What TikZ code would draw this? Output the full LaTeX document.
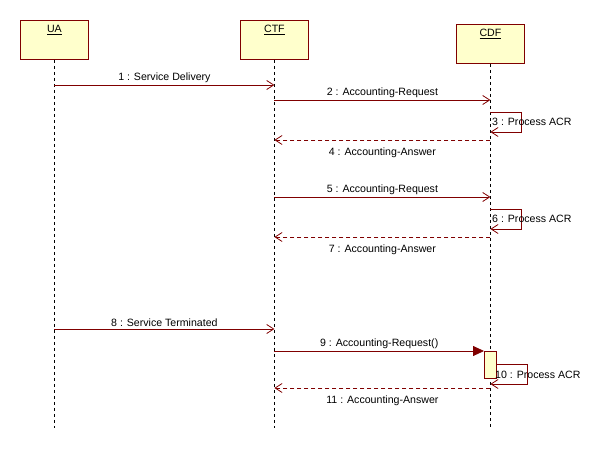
\documentclass[tikz,border=0pt]{standalone}
\usepackage{fontspec}
\setmainfont{Liberation Sans}
\usetikzlibrary{arrows.meta}
\definecolor{msgred}{RGB}{128,0,0}
\definecolor{boxfill}{RGB}{255,255,204}

\begin{document}
\begin{tikzpicture}[x=1pt, y=-1pt,
    font=\fontsize{10.6}{12}\selectfont,
    obj/.style={draw=msgred, fill=boxfill, line width=0.8pt,
                minimum width=68pt, minimum height=39pt, anchor=north west,
                inner sep=0pt},
    objname/.style={anchor=north, inner sep=0pt, yshift=-5pt},
    life/.style={draw=black, line width=0.8pt, dash pattern=on 3pt off 3pt},
    call/.style={draw=msgred, line width=0.8pt,
                 -{Straight Barb[length=7pt,width=9pt,line width=0.8pt]}},
    sync/.style={draw=msgred, line width=0.8pt,
                 -{Triangle[length=11pt,width=10pt]}, fill=none},
    reply/.style={draw=msgred, line width=0.8pt, dash pattern=on 4pt off 3pt,
                  -{Straight Barb[length=7pt,width=9pt,line width=0.8pt]}},
    lbl/.style={inner sep=2pt}
]
\useasboundingbox (0,0) rectangle (597,452);

% objects
\node[obj] (ua)  at (20,20)  {};
\node[obj] (ctf) at (240,20) {};
\node[obj] (cdf) at (456,24) {};
\node[objname] at (ua.north)  {\underline{UA}};
\node[objname] at (ctf.north) {\underline{CTF}};
\node[objname] at (cdf.north) {\underline{CDF}};

% lifelines
\coordinate (uaend)  at (ua.south  |- 0,428);
\coordinate (ctfend) at (ctf.south |- 0,428);
\coordinate (cdfend) at (cdf.south |- 0,428);
\draw[life] (ua.south)  -- (uaend);
\draw[life] (ctf.south) -- (ctfend);
\draw[life] (cdf.south) -- (cdfend);

% first charging round
\draw[call] (ua |- 0,85) -- node[lbl,above]{1 : Service Delivery} (ctf |- 0,85);
\draw[call] (ctf |- 0,100) -- node[lbl,above]{2 : Accounting-Request} (cdf |- 0,100);
\draw[call] (cdf |- 0,112) -- (521,112) -- (521,132) -- (cdf |- 0,132);
\node[anchor=west, inner sep=0pt] (acr3) at (492,122) {3 : Process ACR};
\draw[reply] (cdf |- 0,140) -- node[lbl,below=5pt]{4 : Accounting-Answer} (ctf |- 0,140);

% second round
\draw[call] (ctf |- 0,197) -- node[lbl,above]{5 : Accounting-Request} (cdf |- 0,197);
\draw[call] (cdf |- 0,209) -- (521,209) -- (521,229) -- (cdf |- 0,229);
\node[anchor=west, inner sep=0pt] (acr6) at (492,219) {6 : Process ACR};
\draw[reply] (cdf |- 0,237) -- node[lbl,below=5pt]{7 : Accounting-Answer} (ctf |- 0,237);

% termination
\draw[call] (ua |- 0,329) -- node[lbl,above]{8 : Service Terminated} (ctf |- 0,329);
\node[draw=msgred, fill=boxfill, line width=0.8pt, anchor=north west,
      minimum width=12pt, minimum height=27pt, inner sep=0pt] (act) at (484,351) {};
\draw[sync] (ctf |- 0,351) -- node[lbl,above]{9 : Accounting-Request()} (act.north west);
\draw[call] (act.east |- 0,364) -- (527,364) -- (527,384) -- (cdf |- 0,384);
\node[anchor=west, inner sep=0pt] (acr10) at (495,375) {10 : Process ACR};
\draw[reply] (cdf |- 0,388) -- node[lbl,below=5pt]{11 : Accounting-Answer} (ctf |- 0,388);
\end{tikzpicture}
\end{document}
